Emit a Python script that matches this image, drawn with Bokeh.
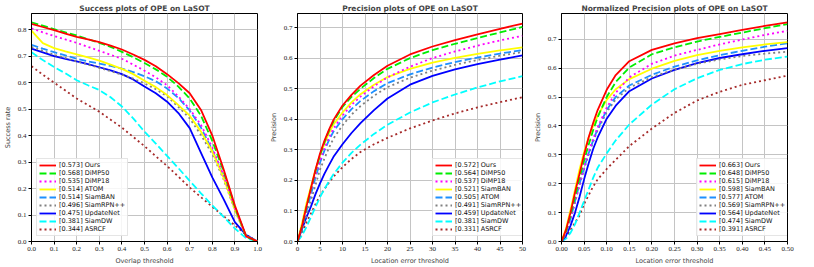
from bokeh.plotting import figure
from bokeh.layouts import row
from bokeh.models import Legend, LegendItem, FixedTicker, NumeralTickFormatter, Range1d
from bokeh.embed import file_html
from bokeh.resources import INLINE

# ---------------- data ----------------
names_success = ["Ours", "DiMP50", "DiMP18", "ATOM", "SiamBAN", "SiamRPN++", "UpdateNet", "SiamDW", "ASRCF"]
scores_success = [0.573, 0.568, 0.535, 0.514, 0.514, 0.496, 0.475, 0.381, 0.344]
names_prec = ["Ours", "DiMP50", "DiMP18", "SiamBAN", "ATOM", "SiamRPN++", "UpdateNet", "SiamDW", "ASRCF"]
scores_prec = [0.572, 0.564, 0.537, 0.521, 0.505, 0.491, 0.459, 0.381, 0.331]
names_norm = ["Ours", "DiMP50", "DiMP18", "SiamBAN", "ATOM", "SiamRPN++", "UpdateNet", "SiamDW", "ASRCF"]
scores_norm = [0.663, 0.648, 0.615, 0.598, 0.577, 0.569, 0.564, 0.474, 0.391]

overlap_thr = [0.0, 0.05, 0.1, 0.15, 0.2, 0.25, 0.3, 0.35, 0.4, 0.45, 0.5,
               0.55, 0.6, 0.65, 0.7, 0.75, 0.8, 0.85, 0.9, 0.95, 1.0]
succ_ours = [0.822, 0.810, 0.798, 0.785, 0.773, 0.763, 0.753, 0.740, 0.725, 0.706, 0.686, 0.662, 0.632, 0.598, 0.560, 0.497, 0.400, 0.273, 0.136, 0.020, 0.0]
succ_dimp50 = [0.828, 0.815, 0.802, 0.790, 0.778, 0.764, 0.750, 0.735, 0.716, 0.696, 0.674, 0.650, 0.622, 0.585, 0.540, 0.475, 0.380, 0.265, 0.130, 0.018, 0.0]
succ_dimp18 = [0.805, 0.790, 0.776, 0.763, 0.750, 0.735, 0.720, 0.705, 0.690, 0.668, 0.645, 0.620, 0.590, 0.548, 0.500, 0.440, 0.355, 0.250, 0.125, 0.018, 0.0]
succ_atom = [0.796, 0.749, 0.730, 0.718, 0.707, 0.695, 0.683, 0.668, 0.652, 0.632, 0.607, 0.583, 0.553, 0.515, 0.475, 0.415, 0.340, 0.240, 0.120, 0.020, 0.0]
succ_siamban = [0.743, 0.728, 0.715, 0.703, 0.690, 0.680, 0.672, 0.663, 0.653, 0.640, 0.624, 0.605, 0.578, 0.542, 0.495, 0.430, 0.345, 0.245, 0.125, 0.020, 0.0]
succ_rpn = [0.735, 0.720, 0.705, 0.693, 0.680, 0.668, 0.656, 0.643, 0.630, 0.615, 0.597, 0.575, 0.548, 0.508, 0.465, 0.402, 0.330, 0.235, 0.118, 0.018, 0.0]
succ_updatenet = [0.728, 0.714, 0.700, 0.690, 0.680, 0.670, 0.658, 0.646, 0.632, 0.612, 0.585, 0.560, 0.528, 0.485, 0.428, 0.335, 0.242, 0.160, 0.073, 0.024, 0.0]
succ_siamdw = [0.715, 0.685, 0.659, 0.635, 0.609, 0.590, 0.572, 0.545, 0.510, 0.465, 0.415, 0.370, 0.323, 0.277, 0.229, 0.182, 0.136, 0.093, 0.049, 0.012, 0.0]
succ_asrcf = [0.662, 0.630, 0.600, 0.570, 0.540, 0.515, 0.490, 0.460, 0.430, 0.395, 0.360, 0.322, 0.285, 0.245, 0.204, 0.167, 0.131, 0.096, 0.061, 0.025, 0.0]

loc_thr = [0, 1, 2, 3, 4, 5, 6, 7, 8, 10, 12, 14, 17, 20, 25, 30, 35, 40, 45, 50]
prec_ours = [0, 0.05, 0.115, 0.175, 0.235, 0.288, 0.33, 0.366, 0.398, 0.445, 0.48, 0.51, 0.545, 0.575, 0.612, 0.638, 0.659, 0.678, 0.696, 0.713]
prec_dimp50 = [0, 0.05, 0.112, 0.172, 0.23, 0.282, 0.325, 0.362, 0.393, 0.44, 0.473, 0.5, 0.535, 0.565, 0.6, 0.626, 0.647, 0.666, 0.684, 0.702]
prec_dimp18 = [0, 0.05, 0.11, 0.165, 0.218, 0.265, 0.305, 0.34, 0.37, 0.412, 0.447, 0.474, 0.508, 0.537, 0.572, 0.6, 0.622, 0.641, 0.658, 0.673]
prec_siamban = [0, 0.06, 0.125, 0.18, 0.235, 0.282, 0.32, 0.355, 0.383, 0.422, 0.455, 0.482, 0.513, 0.538, 0.565, 0.585, 0.601, 0.614, 0.625, 0.635]
prec_atom = [0, 0.045, 0.1, 0.155, 0.21, 0.258, 0.298, 0.332, 0.36, 0.4, 0.433, 0.46, 0.492, 0.518, 0.547, 0.569, 0.587, 0.602, 0.615, 0.626]
prec_rpn = [0, 0.035, 0.085, 0.135, 0.185, 0.235, 0.272, 0.307, 0.337, 0.38, 0.415, 0.443, 0.477, 0.505, 0.536, 0.559, 0.578, 0.594, 0.608, 0.62]
prec_updatenet = [0, 0.04, 0.08, 0.115, 0.155, 0.19, 0.222, 0.25, 0.277, 0.318, 0.355, 0.387, 0.43, 0.468, 0.513, 0.542, 0.563, 0.58, 0.595, 0.609]
prec_siamdw = [0, 0.02, 0.048, 0.08, 0.113, 0.145, 0.172, 0.197, 0.22, 0.258, 0.29, 0.317, 0.352, 0.382, 0.422, 0.455, 0.481, 0.504, 0.524, 0.541]
prec_asrcf = [0, 0.03, 0.062, 0.092, 0.122, 0.15, 0.172, 0.193, 0.212, 0.243, 0.27, 0.293, 0.318, 0.339, 0.37, 0.396, 0.419, 0.439, 0.456, 0.472]

norm_thr = [0, 0.01, 0.02, 0.03, 0.04, 0.05, 0.06, 0.07, 0.08, 0.1, 0.12, 0.15, 0.2, 0.25, 0.3, 0.35, 0.4, 0.45, 0.5]
norm_ours = [0, 0.04, 0.1, 0.17, 0.235, 0.3, 0.36, 0.41, 0.455, 0.525, 0.576, 0.624, 0.663, 0.686, 0.704, 0.718, 0.732, 0.746, 0.758]
norm_dimp50 = [0, 0.035, 0.09, 0.155, 0.22, 0.28, 0.335, 0.385, 0.43, 0.5, 0.552, 0.602, 0.648, 0.672, 0.692, 0.708, 0.723, 0.738, 0.752]
norm_dimp18 = [0, 0.03, 0.08, 0.14, 0.2, 0.26, 0.31, 0.355, 0.395, 0.463, 0.515, 0.568, 0.615, 0.643, 0.663, 0.682, 0.699, 0.715, 0.729]
norm_siamban = [0, 0.045, 0.11, 0.18, 0.25, 0.31, 0.36, 0.4, 0.435, 0.49, 0.527, 0.562, 0.598, 0.625, 0.645, 0.66, 0.672, 0.682, 0.69]
norm_atom = [0, 0.03, 0.08, 0.14, 0.2, 0.255, 0.305, 0.35, 0.39, 0.455, 0.5, 0.54, 0.577, 0.605, 0.627, 0.645, 0.66, 0.674, 0.686]
norm_rpn = [0, 0.03, 0.078, 0.135, 0.195, 0.25, 0.3, 0.345, 0.385, 0.448, 0.492, 0.532, 0.569, 0.595, 0.615, 0.63, 0.642, 0.65, 0.657]
norm_updatenet = [0, 0.02, 0.055, 0.1, 0.155, 0.215, 0.27, 0.32, 0.36, 0.425, 0.47, 0.52, 0.564, 0.594, 0.617, 0.635, 0.648, 0.66, 0.669]
norm_siamdw = [0, 0.01, 0.03, 0.06, 0.1, 0.14, 0.18, 0.22, 0.255, 0.305, 0.35, 0.405, 0.474, 0.527, 0.565, 0.594, 0.614, 0.629, 0.64]
norm_asrcf = [0, 0.015, 0.04, 0.065, 0.09, 0.13, 0.16, 0.19, 0.215, 0.251, 0.283, 0.33, 0.391, 0.445, 0.488, 0.518, 0.542, 0.558, 0.574]

tick_success_x = [0.0, 0.1, 0.2, 0.3, 0.4, 0.5, 0.6, 0.7, 0.8, 0.9, 1.0]
tick_success_y = [0.0, 0.1, 0.2, 0.3, 0.4, 0.5, 0.6, 0.7, 0.8]
tick_prec_x = [0, 5, 10, 15, 20, 25, 30, 35, 40, 45, 50]
tick_prec_y = [0.0, 0.1, 0.2, 0.3, 0.4, 0.5, 0.6, 0.7]
tick_norm_x = [0.0, 0.05, 0.1, 0.15, 0.2, 0.25, 0.3, 0.35, 0.4, 0.45, 0.5]
tick_norm_y = [0.0, 0.1, 0.2, 0.3, 0.4, 0.5, 0.6, 0.7]

# ---------------- styles (by rank) ----------------
STYLES = [
    ("#ff0000", "solid"),
    ("#00ee00", "7 3"),
    ("#ff00ff", "2 3"),
    ("#ffff00", "solid"),
    ("#1e90ff", "7 3"),
    ("#808080", "2 3"),
    ("#0000ff", "solid"),
    ("#00ffff", "7 3"),
    ("#a52a2a", "2 3"),
]

SANS = "DejaVu Sans"
SERIF = "Liberation Serif"


def make_panel(title, xlabel, ylabel, xs, series, names, scores, xr, yr,
               xticks, yticks, xfmt, yfmt, legend_loc,
               left, right, total_w):
    p = figure(output_backend="svg", toolbar_location=None,
               width=total_w, height=267,
               min_border_left=left, min_border_right=right,
               min_border_top=13, min_border_bottom=24,
               x_range=Range1d(*xr), y_range=Range1d(*yr),
               title=title)
    p.title.text_font = SANS
    p.title.text_font_style = "bold"
    p.title.text_font_size = "7.5px"
    p.title.align = "center"
    p.title.standoff = 2
    p.title.offset = 0
    p.background_fill_color = "white"
    p.border_fill_color = "white"
    p.outline_line_color = "black"
    p.outline_line_width = 1

    for ax, ticks, fmt, lab in ((p.xaxis, xticks, xfmt, xlabel), (p.yaxis, yticks, yfmt, ylabel)):
        ax.ticker = FixedTicker(ticks=ticks)
        ax.formatter = NumeralTickFormatter(format=fmt)
        ax.axis_label = lab
        ax.axis_label_text_font = SANS
        ax.axis_label_text_font_size = "6.5px"
        ax.axis_label_text_font_style = "normal"
        ax.axis_label_standoff = 3
        ax.major_label_text_font = SERIF
        ax.major_label_text_font_size = "7px"
        ax.major_label_text_color = "#222222"
        ax.major_label_standoff = 2
        ax.major_tick_out = 3
        ax.major_tick_in = 0
        ax.minor_tick_out = 0
        ax.minor_tick_in = 0
        ax.axis_line_color = "black"
        ax.major_tick_line_color = "black"

    p.grid.grid_line_color = "#c4c4c4"
    p.grid.grid_line_width = 1

    renderers = []
    for ys, (color, dash) in zip(series, STYLES):
        r = p.line(xs, ys, line_color=color, line_dash=dash, line_width=1.8)
        renderers.append(r)
    p.renderers = list(reversed(p.renderers))

    items = [LegendItem(label="[%.3f] %s" % (s, n), renderers=[r])
             for n, s, r in zip(names, scores, renderers)]
    leg = Legend(items=items, location=legend_loc)
    leg.label_text_font = SANS
    leg.label_text_font_size = "6.5px"
    leg.label_text_color = "#111111"
    leg.glyph_width = 17
    leg.glyph_height = 8
    leg.label_height = 8
    leg.label_standoff = 3
    leg.spacing = 0
    leg.padding = 2
    leg.margin = 0
    leg.border_line_color = "#cccccc"
    leg.border_line_width = 1
    leg.background_fill_alpha = 0.85
    p.add_layout(leg, "center")
    return p


p1 = make_panel("Success plots of OPE on LaSOT", "Overlap threshold", "Success rate",
                overlap_thr,
                [succ_ours, succ_dimp50, succ_dimp18, succ_atom, succ_siamban,
                 succ_rpn, succ_updatenet, succ_siamdw, succ_asrcf],
                names_success, scores_success, (0, 1), (0, 0.861),
                tick_success_x, tick_success_y, "0.0", "0.0", (5, 5),
                26, 9, 266)
p2 = make_panel("Precision plots of OPE on LaSOT", "Location error threshold", "Precision",
                loc_thr,
                [prec_ours, prec_dimp50, prec_dimp18, prec_siamban, prec_atom,
                 prec_rpn, prec_updatenet, prec_siamdw, prec_asrcf],
                names_prec, scores_prec, (0, 50), (0, 0.746),
                tick_prec_x, tick_prec_y, "0", "0.0", (135, 5),
                26, 8, 264)
p3 = make_panel("Normalized Precision plots of OPE on LaSOT", "Location error threshold", "Precision",
                norm_thr,
                [norm_ours, norm_dimp50, norm_dimp18, norm_siamban, norm_atom,
                 norm_rpn, norm_updatenet, norm_siamdw, norm_asrcf],
                names_norm, scores_norm, (0, 0.5), (0, 0.789),
                tick_norm_x, tick_norm_y, "0.00", "0.0", (135, 5),
                26, 27, 284)

layout = row(p1, p2, p3, spacing=0)

open("out.html", "w").write(file_html(layout, INLINE))
